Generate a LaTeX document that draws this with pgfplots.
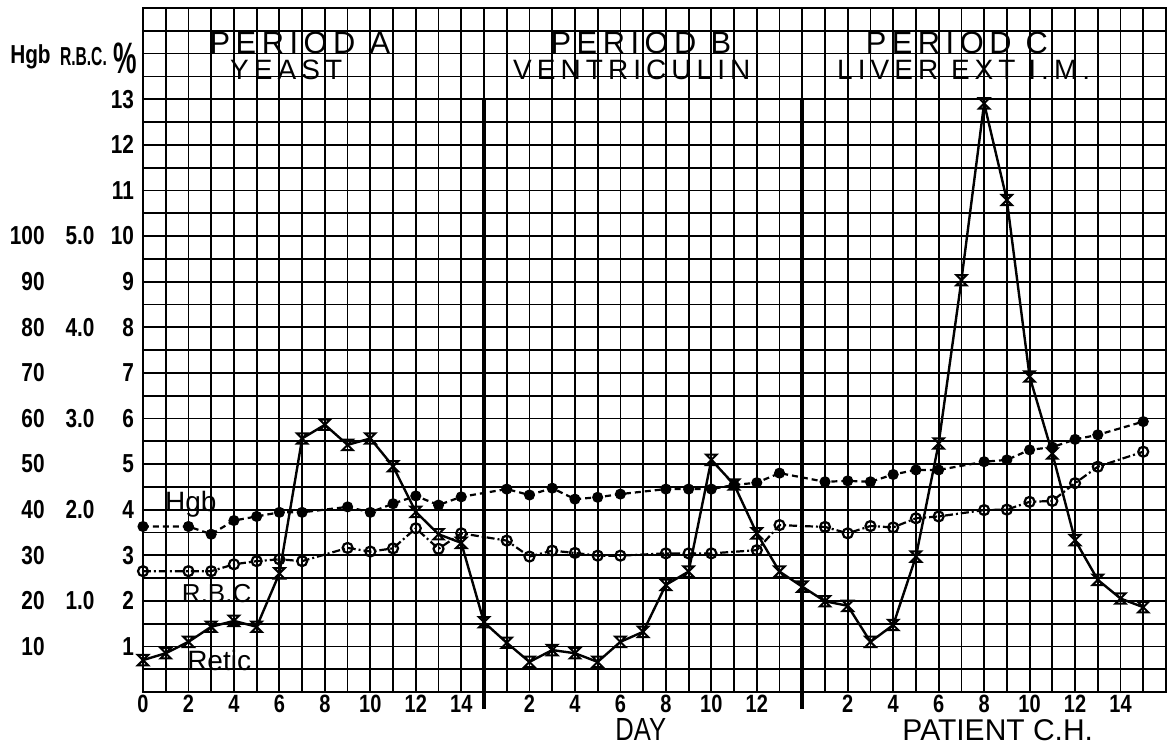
\documentclass[border=0pt]{standalone}
\usepackage{pgfplots}
\pgfplotsset{compat=1.18}
\usepackage{pgfplotstable}
\usepackage{fontspec}
\setmainfont{Liberation Sans}
\newfontfamily\spaced[LetterSpace=18]{Liberation Sans}
\newfontfamily\hand[FakeStretch=0.8]{Liberation Sans}
\newfontfamily\narrow[FakeStretch=0.6]{Liberation Sans}

% hand-drawn "x" marks of the retic curve: an hourglass outline
\pgfdeclareplotmark{hglass}{%
  \pgfpathmoveto{\pgfqpoint{-\pgfplotmarksize}{\pgfplotmarksize}}%
  \pgfpathlineto{\pgfqpoint{\pgfplotmarksize}{\pgfplotmarksize}}%
  \pgfpathlineto{\pgfqpoint{-\pgfplotmarksize}{-\pgfplotmarksize}}%
  \pgfpathlineto{\pgfqpoint{\pgfplotmarksize}{-\pgfplotmarksize}}%
  \pgfpathclose
  \pgfusepathqstroke}

% x = running day index (A: 0-14, B: 15-28, C: 29-44), y in % units
% Hgb = 10*y, RBC = y/2
\pgfplotstableread{
x y
0 3.63
2 3.63
3 3.46
4 3.76
5 3.85
6 3.94
7 3.94
9 4.06
10 3.94
11 4.13
12 4.30
13 4.10
14 4.28
16 4.45
17 4.32
18 4.47
19 4.23
20 4.27
21 4.34
23 4.45
24 4.45
25 4.45
26 4.54
27 4.59
28 4.80
30 4.61
31 4.63
32 4.61
33 4.77
34 4.87
35 4.87
37 5.05
38 5.09
39 5.31
40 5.37
41 5.54
42 5.64
44 5.93
}\hgb

\pgfplotstableread{
x y
0 2.65
2 2.65
3 2.65
4 2.80
5 2.87
6 2.91
7 2.87
9 3.16
10 3.08
11 3.15
12 3.59
13 3.14
14 3.48
16 3.32
17 2.97
18 3.10
19 3.05
20 2.99
21 2.99
23 3.04
24 3.04
25 3.04
27 3.11
28 3.66
30 3.62
31 3.48
32 3.64
33 3.61
34 3.81
35 3.85
37 3.99
38 4.00
39 4.17
40 4.19
41 4.58
42 4.94
44 5.27
}\rbc

\pgfplotstableread{
x y
0 0.70
1 0.85
2 1.10
3 1.43
4 1.56
5 1.43
6 2.60
7 5.56
8 5.86
9 5.42
10 5.56
11 4.95
12 3.95
13 3.46
14 3.27
15 1.53
16 1.08
17 0.66
18 0.92
19 0.85
20 0.66
21 1.10
22 1.32
23 2.35
24 2.64
25 5.09
26 4.55
27 3.48
28 2.64
29 2.31
30 1.99
31 1.89
32 1.10
33 1.47
34 2.97
35 5.45
36 9.03
37 12.91
38 10.79
39 6.92
40 5.23
41 3.33
42 2.46
43 2.05
44 1.86
}\retic

\begin{document}
\begin{tikzpicture}
\begin{axis}[
    name=ax,
    scale only axis,
    width=511.5pt, height=342pt,
    xmin=0, xmax=45, ymin=0, ymax=15,
    xtick={0,2,4,6,8,10,12,14,17,19,21,23,25,27,31,33,35,37,39,41,43},
    xticklabels={0,2,4,6,8,10,12,14,2,4,6,8,10,12,2,4,6,8,10,12,14},
    minor xtick={0,...,45},
    ytick={1,...,13},
    minor ytick={0,0.5,...,15},
    grid=both,
    grid style={black, line width=0.9pt},
    minor grid style={black, line width=0.9pt},
    major tick length=0pt, minor tick length=0pt,
    axis line style={line width=0.9pt},
    /pgf/number format/assume math mode=true,
    xticklabel style={font=\hand\bfseries\fontsize{12.5}{12.5}\selectfont, yshift=2pt},
    yticklabel style={font=\hand\bfseries\fontsize{13}{13}\selectfont, xshift=-1pt},
    clip=false,
]
% period dividers
\addplot[black, line width=1.8pt] coordinates {(15,13) (15,-0.38)};
\addplot[black, line width=1.8pt] coordinates {(29,13) (29,-0.38)};

\addplot[black, line width=1.1pt, dash pattern=on 3pt off 2pt,
    mark=*, mark size=2.2pt, mark options={solid}] table {\hgb};
\addplot[black, line width=1.1pt, dash pattern=on 4pt off 1.5pt on 1pt off 1.5pt,
    mark=o, mark size=2.5pt, mark options={solid, fill=white, line width=1.1pt}] table {\rbc};
\addplot[black, line width=1.2pt, mark=hglass, mark size=2.6pt,
    mark options={solid, line width=1pt}] table {\retic};

% titles
\node[anchor=base, inner sep=0, font=\spaced\fontsize{15.4}{15}\selectfont] at (axis cs:6.9,14.0) {PERIOD A};
\node[anchor=base, inner sep=0, font=\spaced\fontsize{14}{14}\selectfont] at (axis cs:6.3,13.44) {YEAST};
\node[anchor=base, inner sep=0, font=\spaced\fontsize{15.4}{15}\selectfont] at (axis cs:21.9,14.0) {PERIOD B};
\node[anchor=base, inner sep=0, font=\spaced\fontsize{14}{14}\selectfont] at (axis cs:21.5,13.44) {VENTRICULIN};
\node[anchor=base, inner sep=0, font=\spaced\fontsize{15.4}{15}\selectfont] at (axis cs:35.8,14.0) {PERIOD C};
\node[anchor=base, inner sep=0, font=\spaced\fontsize{14}{14}\selectfont] at (axis cs:36.1,13.44) {LIVER EXT I.M.};

% left scales
\node[inner sep=0, font=\hand\bfseries\fontsize{13}{13}\selectfont] at (axis cs:-4.95,13.93) {Hgb};
\node[inner sep=0, font=\narrow\bfseries\fontsize{13}{13}\selectfont] at (axis cs:-2.62,13.93) {R.B.C.};
\node[inner sep=0, font=\narrow\bfseries\fontsize{22}{22}\selectfont] at (axis cs:-0.79,13.90) {\%};
\node[anchor=east, inner sep=0, font=\hand\bfseries\fontsize{13}{13}\selectfont] at (axis cs:-4.31,1) {10};
\node[anchor=east, inner sep=0, font=\hand\bfseries\fontsize{13}{13}\selectfont] at (axis cs:-4.31,2) {20};
\node[anchor=east, inner sep=0, font=\hand\bfseries\fontsize{13}{13}\selectfont] at (axis cs:-4.31,3) {30};
\node[anchor=east, inner sep=0, font=\hand\bfseries\fontsize{13}{13}\selectfont] at (axis cs:-4.31,4) {40};
\node[anchor=east, inner sep=0, font=\hand\bfseries\fontsize{13}{13}\selectfont] at (axis cs:-4.31,5) {50};
\node[anchor=east, inner sep=0, font=\hand\bfseries\fontsize{13}{13}\selectfont] at (axis cs:-4.31,6) {60};
\node[anchor=east, inner sep=0, font=\hand\bfseries\fontsize{13}{13}\selectfont] at (axis cs:-4.31,7) {70};
\node[anchor=east, inner sep=0, font=\hand\bfseries\fontsize{13}{13}\selectfont] at (axis cs:-4.31,8) {80};
\node[anchor=east, inner sep=0, font=\hand\bfseries\fontsize{13}{13}\selectfont] at (axis cs:-4.31,9) {90};
\node[anchor=east, inner sep=0, font=\hand\bfseries\fontsize{13}{13}\selectfont] at (axis cs:-4.31,10) {100};
\node[inner sep=0, font=\hand\bfseries\fontsize{13}{13}\selectfont] at (axis cs:-2.77,2) {1.0};
\node[inner sep=0, font=\hand\bfseries\fontsize{13}{13}\selectfont] at (axis cs:-2.77,4) {2.0};
\node[inner sep=0, font=\hand\bfseries\fontsize{13}{13}\selectfont] at (axis cs:-2.77,6) {3.0};
\node[inner sep=0, font=\hand\bfseries\fontsize{13}{13}\selectfont] at (axis cs:-2.77,8) {4.0};
\node[inner sep=0, font=\hand\bfseries\fontsize{13}{13}\selectfont] at (axis cs:-2.77,10) {5.0};

% curve labels
\node[anchor=base, inner sep=0, font=\fontsize{14}{14}\selectfont] at (axis cs:2.1,3.95) {Hgb};
\node[anchor=base, inner sep=0, font=\fontsize{13}{13}\selectfont] at (axis cs:3.24,1.97) {R.B.C};
\node[anchor=base, inner sep=0, font=\fontsize{14}{14}\selectfont] at (axis cs:3.35,0.48) {Retic};

% axis captions
\node[anchor=base, inner sep=0, font=\hand\fontsize{16}{16}\selectfont] at (axis cs:21.9,-1.06) {DAY};
\node[anchor=base, inner sep=0, font=\fontsize{15}{15}\selectfont] at (axis cs:37.6,-1.07) {PATIENT C.H.};
\end{axis}
\path[use as bounding box] ([xshift=-71.5pt,yshift=-27pt]ax.south west)
  rectangle ([xshift=0.5pt,yshift=4pt]ax.north east);
\end{tikzpicture}
\end{document}
